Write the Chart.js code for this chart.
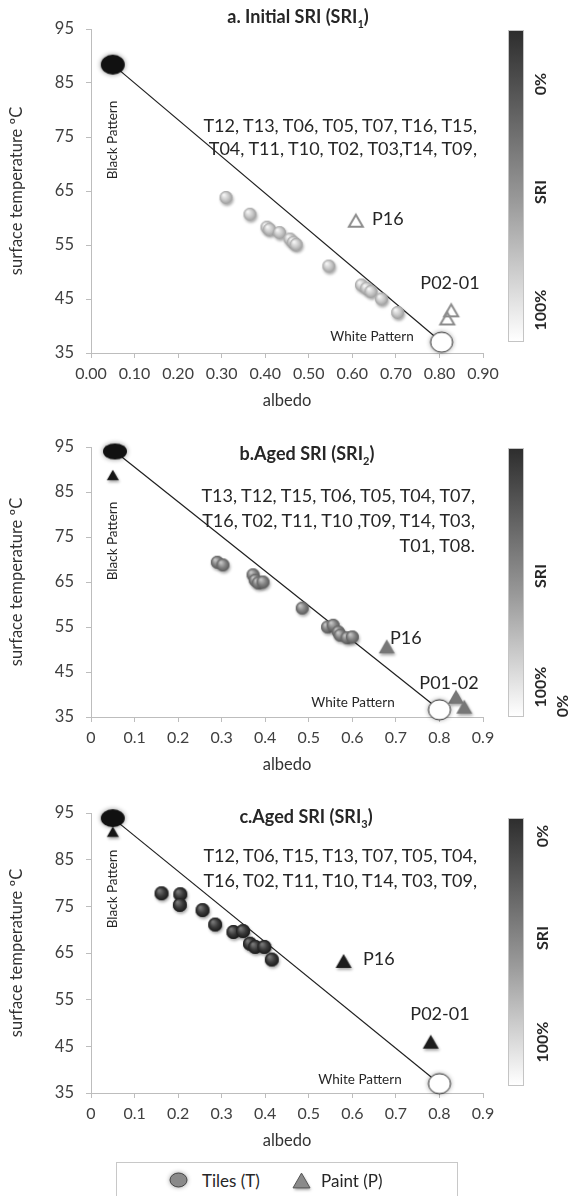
<!DOCTYPE html>
<html>
<head>
<meta charset="utf-8">
<script src="https://cdn.jsdelivr.net/npm/chart.js@4.4.1/dist/chart.umd.min.js"></script>
<style>
  body { margin: 0; background: #fff; }
  #page { position: relative; width: 569px; height: 1196px; overflow: hidden; font-family: Lato, sans-serif; color: #262626; }
  canvas { position: absolute; left: 0; }
  .t { position: absolute; white-space: nowrap; line-height: 1; }
  .bar { position: absolute; width: 14px; border: 1px solid #c4c4c4; background: linear-gradient(to bottom, #2e2e2e, #9a9a9a 55%, #ffffff); }
  .legend { position: absolute; left: 116px; top: 1162px; width: 340px; height: 60px; border: 1px solid #c8c8c8; }
</style>
</head>
<body>
<div id="page">
  <canvas id="chartA" width="569" height="420" style="top:0"></canvas>
  <canvas id="chartB" width="569" height="370" style="top:420px"></canvas>
  <canvas id="chartC" width="569" height="370" style="top:790px"></canvas>
  <div class="bar" style="left:508px;top:30px;height:310px"></div>
  <div class="bar" style="left:508px;top:448px;height:267px"></div>
  <div class="bar" style="left:508px;top:818px;height:266px"></div>
  <div class="legend"></div>
</div>
<script>
// tick labels
const xTickValues = [0, 0.1, 0.2, 0.3, 0.4, 0.5, 0.6, 0.7, 0.8, 0.9];
const xTicksA = ['0.00', '0.10', '0.20', '0.30', '0.40', '0.50', '0.60', '0.70', '0.80', '0.90'];
const xTicksBC = ['0', '0.1', '0.2', '0.3', '0.4', '0.5', '0.6', '0.7', '0.8', '0.9'];
const yTickValues = [35, 45, 55, 65, 75, 85, 95];

// a. initial SRI
const tilesAlbedoA = [0.31, 0.365, 0.404, 0.41, 0.433, 0.457, 0.465, 0.471, 0.546, 0.621, 0.633, 0.643, 0.667, 0.704];
const tilesTempA = [63.8, 60.7, 58.3, 57.9, 57.3, 56.1, 55.5, 55.1, 51.1, 47.6, 47.0, 46.4, 45.0, 42.5];
const paintAlbedoA = [0.608, 0.827, 0.818];
const paintTempA = [59.5, 42.9, 41.4];
const patternAlbedoA = [0.05, 0.805]; // black, white
const patternTempA = [88.4, 37.0];

// b. aged SRI 2
const tilesAlbedoB = [0.29, 0.303, 0.372, 0.377, 0.384, 0.395, 0.485, 0.543, 0.556, 0.568, 0.572, 0.588, 0.6];
const tilesTempB = [69.4, 68.8, 66.6, 65.4, 64.8, 65.0, 59.2, 55.0, 55.4, 53.9, 53.2, 52.6, 52.8];
const paintAlbedoB = [0.679, 0.838, 0.857];
const paintTempB = [50.7, 39.5, 37.3];
const blackPaintB = [0.05, 88.8];
const patternAlbedoB = [0.055, 0.80];
const patternTempB = [94.0, 36.6];

// c. aged SRI 3
const tilesAlbedoC = [0.162, 0.205, 0.204, 0.256, 0.285, 0.327, 0.349, 0.365, 0.377, 0.398, 0.415];
const tilesTempC = [77.8, 77.6, 75.3, 74.2, 71.1, 69.5, 69.7, 67.0, 66.3, 66.3, 63.6];
const paintAlbedoC = [0.58, 0.78];
const paintTempC = [63.3, 46.0];
const blackPaintC = [0.05, 91.0];
const patternAlbedoC = [0.05, 0.80];
const patternTempC = [93.9, 37.0];

Chart.defaults.font.family = 'Lato';
Chart.defaults.color = '#333';

const X_AXIS_H = 58;

const pts = (xs, ys) => xs.map((x, i) => ({ x, y: ys[i] }));

const mkCanvas = (w, h) => {
  const c = document.createElement('canvas');
  c.width = w; c.height = h;
  return c;
};

const sphere = function drawSphereMarker(r, dark, mid, light) {
  const s = Math.ceil(r * 2 + 10);
  const c = mkCanvas(s, s);
  const g = c.getContext('2d');
  const cx = s / 2; const cy = s / 2;
  g.shadowColor = 'rgba(0,0,0,0.35)';
  g.shadowBlur = 3; g.shadowOffsetX = 1; g.shadowOffsetY = 2;
  g.beginPath(); g.arc(cx, cy, r, 0, Math.PI * 2); g.fillStyle = mid; g.fill();
  g.shadowColor = 'transparent';
  const grad = g.createRadialGradient(cx - r * 0.35, cy - r * 0.4, r * 0.1, cx, cy, r);
  grad.addColorStop(0, light); grad.addColorStop(0.55, mid); grad.addColorStop(1, dark);
  g.fillStyle = grad;
  g.beginPath(); g.arc(cx, cy, r, 0, Math.PI * 2); g.fill();
  return c;
};

const blob = function drawEllipseMarker(rx, ry, fill, stroke) {
  const c = mkCanvas(Math.ceil(rx * 2 + 14), Math.ceil(ry * 2 + 14));
  const g = c.getContext('2d');
  g.shadowColor = 'rgba(0,0,0,0.45)'; g.shadowBlur = 5;
  g.beginPath(); g.ellipse(c.width / 2, c.height / 2, rx, ry, 0, 0, Math.PI * 2);
  g.fillStyle = fill; g.fill();
  g.shadowColor = 'transparent';
  if (stroke) { g.strokeStyle = stroke; g.lineWidth = 1; g.stroke(); }
  return c;
};

const tri = function drawTriangleMarker(w, fill, stroke, lw) {
  const h = w * 0.87;
  const c = mkCanvas(Math.ceil(w + 10), Math.ceil(w + 10));
  const g = c.getContext('2d');
  const cx = c.width / 2; const cy = c.height / 2;
  g.beginPath();
  g.moveTo(cx, cy - h / 2); g.lineTo(cx + w / 2, cy + h / 2); g.lineTo(cx - w / 2, cy + h / 2); g.closePath();
  if (fill) {
    g.shadowColor = 'rgba(0,0,0,0.35)'; g.shadowBlur = 3; g.shadowOffsetX = 1; g.shadowOffsetY = 2;
    g.fillStyle = fill; g.fill();
    g.shadowColor = 'transparent';
  }
  if (stroke) { g.strokeStyle = stroke; g.lineWidth = lw; g.lineJoin = 'miter'; g.stroke(); }
  return c;
};

const imgSet = (data, img) => ({
  data, pointStyle: img, pointRadius: 8, showLine: false, clip: false,
});

const panelSets = (tiles, paint, blackPaint, pattern, looks) => {
  const sets = [
    imgSet([pattern[0]], looks.black),
    imgSet([pattern[1]], looks.white),
  ];
  if (blackPaint) sets.push(imgSet([blackPaint], looks.blackTri));
  sets.push(imgSet(paint, looks.tri));
  sets.push(imgSet(tiles, looks.tile));
  sets.push({
    data: pattern, showLine: true, borderColor: '#1f1f1f', borderWidth: 1.2,
    pointRadius: 0, clip: false,
  });
  return sets;
};

const makePanel = function buildScatterPanel(id, areaTop, areaBottom, xLabels, datasets) {
  const canvas = document.getElementById(id);
  const h = canvas.height;
  return new Chart(canvas, {
    type: 'scatter',
    data: { datasets },
    options: {
      responsive: false,
      animation: false,
      events: [],
      layout: { padding: { left: 0, top: areaTop, right: 569 - 483, bottom: h - areaBottom - X_AXIS_H } },
      plugins: { legend: { display: false }, tooltip: { enabled: false } },
      scales: {
        x: {
          type: 'linear', min: 0, max: 0.9,
          afterBuildTicks: (s) => { s.ticks = xTickValues.map((v) => ({ value: v })); },
          afterFit: (s) => { s.height = X_AXIS_H; },
          ticks: { callback: (v, i) => xLabels[i], font: { size: 16 }, color: '#404040', padding: 6, maxRotation: 0, autoSkip: false },
          grid: { drawOnChartArea: false, color: '#bdbdbd', tickLength: 5 },
          border: { color: '#bdbdbd' },
          title: { display: true, text: 'albedo', font: { size: 16.5 }, color: '#333', padding: 0 },
        },
        y: {
          type: 'linear', min: 35, max: 95,
          afterBuildTicks: (s) => { s.ticks = yTickValues.map((v) => ({ value: v })); },
          afterFit: (s) => { s.width = 91; },
          ticks: { font: { size: 16.5 }, color: '#404040', padding: 12 },
          grid: { drawOnChartArea: false, color: '#bdbdbd', tickLength: 5 },
          border: { color: '#bdbdbd' },
          title: { display: true, text: 'surface temperature ºC', font: { size: 16.5 }, color: '#333', padding: { top: 7, bottom: 0 } },
        },
      },
    },
  });
};

const looksA = {
  black: blob(12, 10, '#111'),
  white: blob(11, 10, '#fff', '#333'),
  tile: sphere(6.5, '#9c9c9c', '#c8c8c8', '#f4f4f4'),
  tri: tri(14, null, '#8c8c8c', 2),
};
const looksB = {
  black: blob(12, 8, '#111'),
  white: blob(11, 10, '#fff', '#333'),
  tile: sphere(6.5, '#5a5a5a', '#828282', '#c4c4c4'),
  tri: tri(16, '#777', null, 0),
  blackTri: tri(12, '#151515', null, 0),
};
const looksC = {
  black: blob(12, 9, '#111'),
  white: blob(11, 10, '#fff', '#333'),
  tile: sphere(7, '#1a1a1a', '#3a3a3a', '#777'),
  tri: tri(16, '#1c1c1c', null, 0),
  blackTri: tri(12, '#151515', null, 0),
};

makePanel('chartA', 29, 353, xTicksA,
  panelSets(pts(tilesAlbedoA, tilesTempA), pts(paintAlbedoA, paintTempA), null,
    pts(patternAlbedoA, patternTempA), looksA));
makePanel('chartB', 27, 297, xTicksBC,
  panelSets(pts(tilesAlbedoB, tilesTempB), pts(paintAlbedoB, paintTempB), { x: blackPaintB[0], y: blackPaintB[1] },
    pts(patternAlbedoB, patternTempB), looksB));
makePanel('chartC', 23, 303, xTicksBC,
  panelSets(pts(tilesAlbedoC, tilesTempC), pts(paintAlbedoC, paintTempC), { x: blackPaintC[0], y: blackPaintC[1] },
    pts(patternAlbedoC, patternTempC), looksC));

// text overlays
const page = document.getElementById('page');
const addText = (html, x, y, anchor, css) => {
  const d = document.createElement('div');
  d.className = 't';
  d.innerHTML = html;
  d.style.left = x + 'px';
  d.style.top = y + 'px';
  const tx = anchor === 'r' ? '-100%' : anchor === 'l' ? '0' : '-50%';
  d.style.transform = `translate(${tx}, -50%)` + (css.rot ? ' rotate(-90deg)' : '');
  d.style.fontSize = css.size + 'px';
  if (css.bold) d.style.fontWeight = 'bold';
  if (css.color) d.style.color = css.color;
  page.appendChild(d);
};

const title = { size: 18, bold: true };
const list = { size: 18 };
const small = { size: 13.5 };
const vsmall = { size: 13.5, rot: true };
const barLab = { size: 16, bold: true, rot: true };

addText('a. Initial SRI (SRI<sub style="font-size:11px">1</sub>)', 298, 18, 'c', title);
addText('T12, T13, T06, T05, T07, T16, T15,', 477, 125, 'r', list);
addText('T04, T11, T10, T02, T03,T14, T09,', 477, 148, 'r', list);
addText('P16', 372, 218, 'l', list);
addText('P02-01', 450, 282, 'c', list);
addText('White Pattern', 372, 337, 'c', small);
addText('Black Pattern', 113, 140, 'c', vsmall);
addText('0%', 540, 84, 'c', barLab);
addText('SRI', 540, 192, 'c', barLab);
addText('100%', 540, 310, 'c', barLab);

addText('b.Aged SRI (SRI<sub style="font-size:11px">2</sub>)', 307, 455, 'c', title);
addText('T13, T12, T15, T06, T05, T04, T07,', 475, 495, 'r', list);
addText('T16, T02, T11, T10 ,T09, T14, T03,', 475, 520, 'r', list);
addText('T01, T08.', 475, 545, 'r', list);
addText('P16', 390, 637, 'l', list);
addText('P01-02', 449, 682, 'c', list);
addText('White Pattern', 353, 703, 'c', small);
addText('Black Pattern', 113, 541, 'c', vsmall);
addText('SRI', 540, 576, 'c', barLab);
addText('100%', 540, 687, 'c', barLab);
addText('0%', 562, 706, 'c', barLab);

addText('c.Aged SRI (SRI<sub style="font-size:11px">3</sub>)', 306, 818, 'c', title);
addText('T12, T06, T15, T13, T07, T05, T04,', 477, 855, 'r', list);
addText('T16, T02, T11, T10, T14, T03, T09,', 477, 880, 'r', list);
addText('P16', 363, 958, 'l', list);
addText('P02-01', 440, 1013, 'c', list);
addText('White Pattern', 360, 1080, 'c', small);
addText('Black Pattern', 113, 889, 'c', vsmall);
addText('0%', 542, 836, 'c', barLab);
addText('SRI', 542, 938, 'c', barLab);
addText('100%', 542, 1042, 'c', barLab);

// legend
const legIcon = (img, x, y) => {
  img.style.position = 'absolute';
  img.style.left = (x - img.width / 2) + 'px';
  img.style.top = (y - img.height / 2) + 'px';
  page.appendChild(img);
};
legIcon(blob(8.5, 7, '#8a8a8a', '#444'), 178, 1180);
legIcon(tri(17, '#8a8a8a', '#555', 1), 301, 1180);
addText('Tiles (T)', 202, 1180, 'l', { size: 17 });
addText('Paint (P)', 321, 1180, 'l', { size: 17 });
</script>
</body>
</html>
